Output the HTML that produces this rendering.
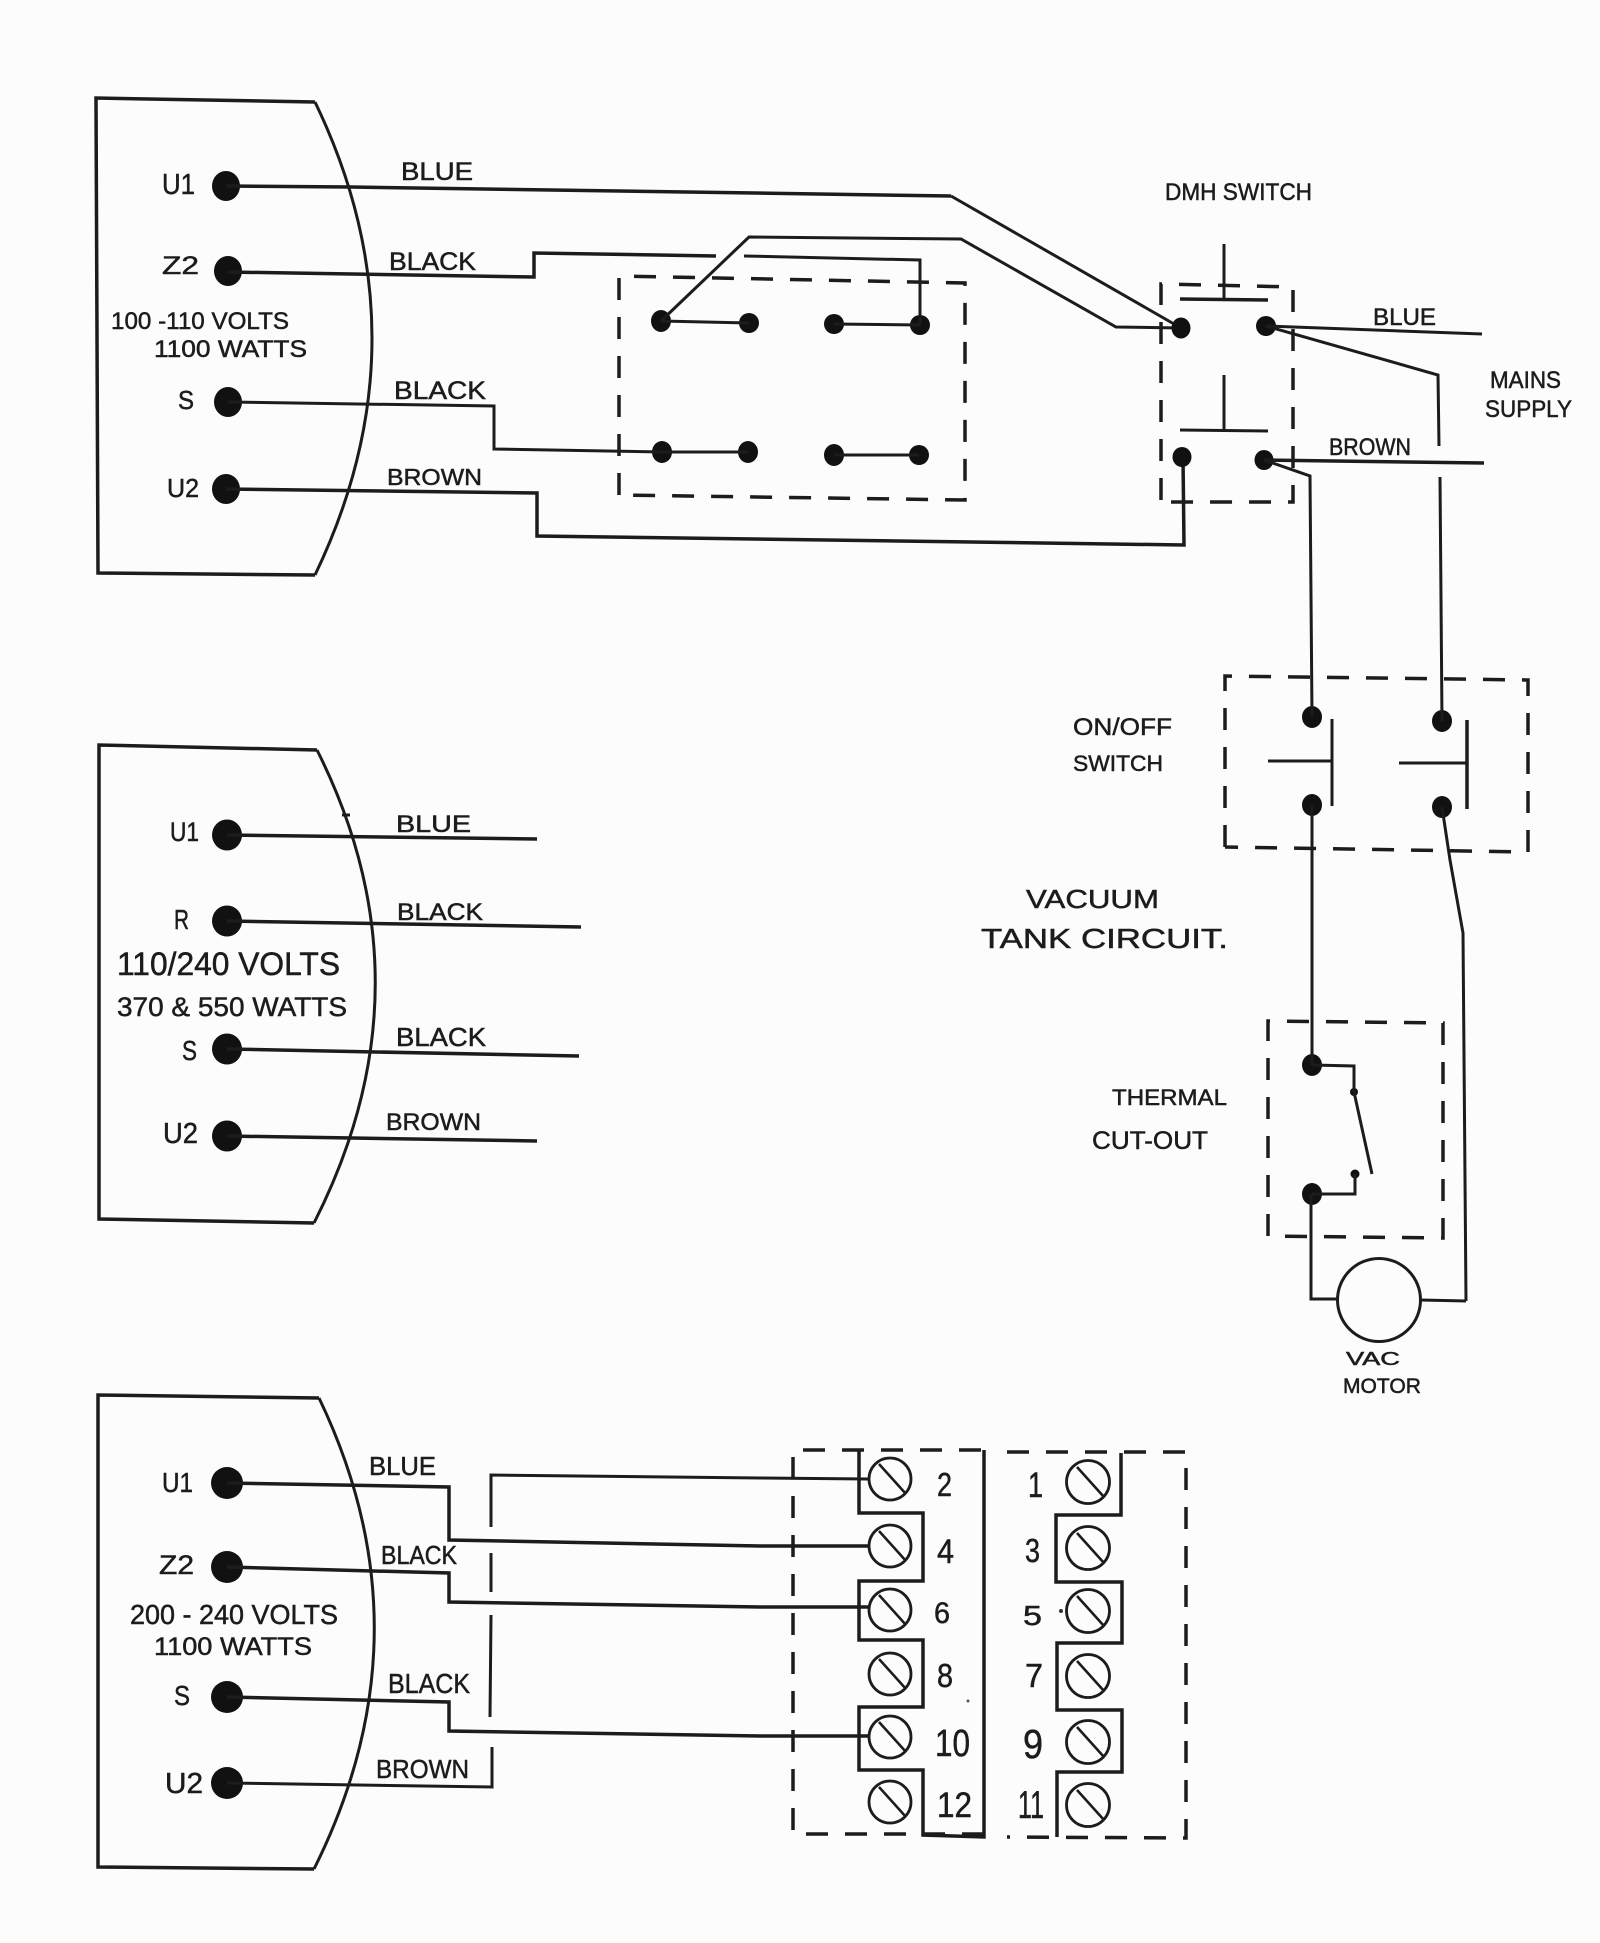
<!DOCTYPE html>
<html><head><meta charset="utf-8"><title>Wiring diagram</title>
<style>
html,body{margin:0;padding:0;background:#fcfcfc}
svg{display:block}
text{font-family:"Liberation Sans",sans-serif;fill:#1c1c1c;stroke:#1c1c1c;stroke-width:.5}
.w{fill:none;stroke:#1c1c1c;stroke-width:3;stroke-linejoin:miter}
.t{fill:none;stroke:#1c1c1c;stroke-width:3.5}
.d{fill:none;stroke:#1c1c1c;stroke-width:3.5;stroke-dasharray:22 17}
.s{fill:none;stroke:#1c1c1c;stroke-width:2.6}
.c{fill:#fcfcfc;stroke:#1c1c1c;stroke-width:2.8}
</style></head>
<body>
<svg xmlns="http://www.w3.org/2000/svg" width="1600" height="1943" viewBox="0 0 1600 1943">
<rect width="1600" height="1943" fill="#fcfcfc"/>

<!-- Panel 1 -->
<path class="t" d="M315 102 L96 98 L98 573 L315 575"/>
<path class="w" d="M315 102 Q429 338 315 575"/>
<g fill="#111">
<ellipse cx="226" cy="186" rx="14" ry="15"/><ellipse cx="228" cy="271" rx="14" ry="15"/>
<ellipse cx="228" cy="402" rx="14" ry="15"/><ellipse cx="226" cy="489" rx="14" ry="15"/>
<ellipse cx="661" cy="321" rx="10" ry="11"/><ellipse cx="749" cy="323" rx="10" ry="10"/>
<ellipse cx="834" cy="324" rx="10" ry="10"/><ellipse cx="920" cy="325" rx="10" ry="10"/>
<ellipse cx="662" cy="452" rx="10" ry="11"/><ellipse cx="748" cy="452" rx="10" ry="11"/>
<ellipse cx="834" cy="455" rx="10" ry="11"/><ellipse cx="919" cy="455" rx="10" ry="10"/>
</g>
<path class="t" d="M226 186 L351 187 L951 196"/><path class="w" d="M951 196 L1181 328"/>
<path class="t" d="M228 272 L534 277 L534 253 L716 256"/>
<path class="w" d="M744 256 L920 260 L920 325"/>
<path class="w" d="M661 321 L749 237 L961 239 L1116 327 L1181 328"/>
<path class="w" d="M661 321 L749 323"/><path class="w" d="M834 324 L920 325"/>
<path class="w" d="M662 452 L748 452"/><path class="w" d="M834 455 L919 455"/>
<path class="w" d="M228 402 L494 406 L494 449 L662 452"/>
<path class="t" d="M226 489 L537 493 L537 536 L1184 545 L1183 457"/>
<path class="d" d="M619 495 L619 276 L965 283 L965 500 L619 495"/>

<!-- DMH switch -->
<path class="d" d="M1161 500 L1161 284 L1293 287 L1293 502 L1161 502"/>
<g fill="#111">
<ellipse cx="1181" cy="328" rx="9.5" ry="10.5"/><ellipse cx="1266" cy="326" rx="10" ry="10"/>
<ellipse cx="1182" cy="457" rx="9.5" ry="10"/><ellipse cx="1264" cy="460" rx="9.5" ry="10"/>
<ellipse cx="1312" cy="717" rx="10" ry="11"/><ellipse cx="1312" cy="805" rx="10" ry="11"/>
<ellipse cx="1442" cy="721" rx="10" ry="11"/><ellipse cx="1442" cy="807" rx="10" ry="11"/>
<ellipse cx="1312" cy="1065" rx="10" ry="11"/><ellipse cx="1312" cy="1194" rx="10" ry="11"/>
<circle cx="1354" cy="1092" r="4"/><circle cx="1355" cy="1174" r="4.5"/>
</g>
<path class="w" d="M1224 244 L1224 299"/><path class="t" d="M1180 299 L1268 300"/>
<path class="w" d="M1224 375 L1224 430"/><path class="w" d="M1180 430 L1268 431"/>
<path class="w" d="M1266 326 L1482 334"/>
<path class="w" d="M1266 326 L1438 375 L1439 446"/>
<path class="w" d="M1440 477 L1442 721"/>
<path class="t" d="M1264 460 L1484 463"/>
<path class="w" d="M1264 460 L1310 476 L1312 716"/>

<!-- On/off switch -->
<path class="d" d="M1225 847 L1225 676 L1528 680 L1528 852 L1225 847"/>
<path class="w" d="M1332 719 L1332 806"/><path class="w" d="M1268 761 L1332 761"/>
<path class="t" d="M1467 720 L1467 809"/><path class="w" d="M1399 763 L1467 763"/>
<path class="w" d="M1312 805 L1312 1065"/>
<path class="w" d="M1442 807 L1450 860 L1463 933 L1466 1301"/>

<!-- Thermal cut-out -->
<path class="d" d="M1268 1236 L1268 1021 L1443 1023 L1443 1238 L1268 1236"/>
<path class="w" d="M1312 1065 L1354 1066 L1354 1092 L1372 1174"/>
<path class="w" d="M1355 1174 L1355 1194 L1312 1194"/>
<path class="w" d="M1311 1194 L1311 1299 L1337 1299"/>
<circle cx="1379" cy="1300" r="41.5" fill="#fcfcfc" stroke="#1c1c1c" stroke-width="3"/>
<path class="w" d="M1421 1300 L1466 1301"/>

<!-- Panel 2 -->
<path class="t" d="M317 750 L99 745 L99 1219 L314 1223"/>
<path class="w" d="M317 750 Q435 985 314 1223"/>
<path class="w" d="M342 815 L350 815"/>
<g fill="#111">
<ellipse cx="227" cy="835" rx="15" ry="15.5"/><ellipse cx="227" cy="921" rx="15" ry="15.5"/>
<ellipse cx="227" cy="1049" rx="15" ry="15.5"/><ellipse cx="227" cy="1136" rx="15" ry="15.5"/>
</g>
<path class="t" d="M227 835 L537 839"/><path class="t" d="M227 921 L581 927"/>
<path class="t" d="M227 1049 L579 1056"/><path class="t" d="M227 1136 L537 1141"/>

<!-- Panel 3 -->
<path class="t" d="M319 1398 L98 1395 L98 1867 L314 1869"/>
<path class="w" d="M319 1398 Q432 1633 314 1869"/>
<g fill="#111">
<ellipse cx="227" cy="1483" rx="16" ry="16"/><ellipse cx="227" cy="1567" rx="16" ry="16"/>
<ellipse cx="227" cy="1697" rx="16" ry="16"/><ellipse cx="227" cy="1783" rx="16" ry="16"/>
</g>
<path class="t" d="M227 1483 L449 1487 L449 1540 L760 1546 L868 1546"/>
<path class="t" d="M227 1567 L449 1573 L449 1602 L760 1607 L868 1607"/>
<path class="t" d="M227 1697 L449 1702 L449 1731 L760 1736 L868 1736"/>
<path class="w" d="M227 1783 L492 1787 L492 1747"/>
<path class="w" d="M490 1717 L491 1615"/><path class="w" d="M491 1592 L491 1553"/>
<path class="w" d="M491 1527 L491 1475 L760 1478 L868 1479"/>

<!-- Terminals -->
<path class="d" d="M984 1834 L793 1834 L793 1450 L984 1450"/>
<path class="t" d="M859 1450 L859 1513 L923 1513 L923 1581 L859 1581 L859 1640 L923 1640 L923 1707 L859 1707 L859 1770 L923 1770 L923 1835 L984 1837 L984 1450"/>
<path class="d" d="M1007 1452 L1186 1452 L1186 1838 L1007 1837"/>
<path class="t" d="M1121 1453 L1121 1515 L1056 1515 L1056 1582 L1122 1582 L1122 1643 L1057 1643 L1057 1710 L1122 1710 L1122 1772 L1057 1772 L1057 1837"/>

<g><circle class="c" cx="890" cy="1479" r="21"/><path class="s" d="M879 1464 L906 1494"/>
<circle class="c" cx="890" cy="1546" r="21"/><path class="s" d="M879 1531 L906 1561"/>
<circle class="c" cx="890" cy="1610" r="21"/><path class="s" d="M879 1595 L906 1625"/>
<circle class="c" cx="890" cy="1674" r="21"/><path class="s" d="M879 1659 L906 1689"/>
<circle class="c" cx="890" cy="1737" r="21"/><path class="s" d="M879 1722 L906 1752"/>
<circle class="c" cx="890" cy="1802" r="21"/><path class="s" d="M879 1787 L906 1817"/>
<circle class="c" cx="1088" cy="1482" r="21.5"/><path class="s" d="M1077 1467 L1104 1497"/>
<circle class="c" cx="1088" cy="1548" r="21.5"/><path class="s" d="M1077 1533 L1104 1563"/>
<circle class="c" cx="1088" cy="1611" r="21.5"/><path class="s" d="M1077 1596 L1104 1626"/>
<circle class="c" cx="1088" cy="1676" r="21.5"/><path class="s" d="M1077 1661 L1104 1691"/>
<circle class="c" cx="1088" cy="1742" r="21.5"/><path class="s" d="M1077 1727 L1104 1757"/>
<circle class="c" cx="1088" cy="1805" r="21.5"/><path class="s" d="M1077 1790 L1104 1820"/></g>
<circle cx="1061" cy="1611" r="2" fill="#333"/><circle cx="968" cy="1701" r="1.5" fill="#555"/>

<!-- Labels: panel 1 -->
<g>
<text x="162" y="194" font-size="29" textLength="33" lengthAdjust="spacingAndGlyphs">U1</text>
<text x="162" y="274" font-size="25" textLength="37" lengthAdjust="spacingAndGlyphs">Z2</text>
<text x="111" y="329" font-size="24" textLength="178" lengthAdjust="spacingAndGlyphs">100 -110 VOLTS</text>
<text x="154" y="357" font-size="24" textLength="153" lengthAdjust="spacingAndGlyphs">1100 WATTS</text>
<text x="178" y="409" font-size="26" textLength="16" lengthAdjust="spacingAndGlyphs">S</text>
<text x="167" y="497" font-size="26" textLength="32" lengthAdjust="spacingAndGlyphs">U2</text>
<text x="401" y="180" font-size="25" textLength="72" lengthAdjust="spacingAndGlyphs">BLUE</text>
<text x="389" y="270" font-size="25" textLength="87" lengthAdjust="spacingAndGlyphs">BLACK</text>
<text x="394" y="399" font-size="25" textLength="92" lengthAdjust="spacingAndGlyphs">BLACK</text>
<text x="387" y="485" font-size="23" textLength="95" lengthAdjust="spacingAndGlyphs">BROWN</text>

<text x="1165" y="200" font-size="24" textLength="147" lengthAdjust="spacingAndGlyphs">DMH SWITCH</text>
<text x="1373" y="325" font-size="24" textLength="63" lengthAdjust="spacingAndGlyphs">BLUE</text>
<text x="1490" y="388" font-size="24" textLength="71" lengthAdjust="spacingAndGlyphs">MAINS</text>
<text x="1485" y="417" font-size="24" textLength="87" lengthAdjust="spacingAndGlyphs">SUPPLY</text>
<text x="1329" y="455" font-size="24" textLength="82" lengthAdjust="spacingAndGlyphs">BROWN</text>
<text x="1073" y="735" font-size="24" textLength="99" lengthAdjust="spacingAndGlyphs">ON/OFF</text>
<text x="1073" y="771" font-size="22" textLength="90" lengthAdjust="spacingAndGlyphs">SWITCH</text>

<text x="1026" y="908" font-size="26" textLength="133" lengthAdjust="spacingAndGlyphs">VACUUM</text>
<text x="981" y="948" font-size="28" textLength="247" lengthAdjust="spacingAndGlyphs">TANK CIRCUIT.</text>
<text x="1112" y="1105" font-size="22" textLength="115" lengthAdjust="spacingAndGlyphs">THERMAL</text>
<text x="1092" y="1149" font-size="25" textLength="116" lengthAdjust="spacingAndGlyphs">CUT-OUT</text>
<text x="1346" y="1365" font-size="18" textLength="54" lengthAdjust="spacingAndGlyphs">VAC</text>
<text x="1343" y="1393" font-size="21" textLength="78" lengthAdjust="spacingAndGlyphs">MOTOR</text>

<!-- panel 2 -->
<text x="170" y="841" font-size="27" textLength="29" lengthAdjust="spacingAndGlyphs">U1</text>
<text x="174" y="929" font-size="28" textLength="15" lengthAdjust="spacingAndGlyphs">R</text>
<text x="117" y="975" font-size="32" textLength="223" lengthAdjust="spacingAndGlyphs">110/240 VOLTS</text>
<text x="117" y="1016" font-size="27" textLength="230" lengthAdjust="spacingAndGlyphs">370 &amp; 550 WATTS</text>
<text x="182" y="1060" font-size="28" textLength="15" lengthAdjust="spacingAndGlyphs">S</text>
<text x="163" y="1143" font-size="29" textLength="35" lengthAdjust="spacingAndGlyphs">U2</text>
<text x="396" y="832" font-size="24" textLength="75" lengthAdjust="spacingAndGlyphs">BLUE</text>
<text x="397" y="920" font-size="24" textLength="86" lengthAdjust="spacingAndGlyphs">BLACK</text>
<text x="396" y="1046" font-size="26" textLength="90" lengthAdjust="spacingAndGlyphs">BLACK</text>
<text x="386" y="1130" font-size="24" textLength="95" lengthAdjust="spacingAndGlyphs">BROWN</text>

<!-- panel 3 -->
<text x="162" y="1492" font-size="28" textLength="31" lengthAdjust="spacingAndGlyphs">U1</text>
<text x="159" y="1574" font-size="27" textLength="35" lengthAdjust="spacingAndGlyphs">Z2</text>
<text x="130" y="1624" font-size="28" textLength="208" lengthAdjust="spacingAndGlyphs">200 - 240 VOLTS</text>
<text x="154" y="1655" font-size="25" textLength="158" lengthAdjust="spacingAndGlyphs">1100 WATTS</text>
<text x="174" y="1705" font-size="28" textLength="16" lengthAdjust="spacingAndGlyphs">S</text>
<text x="165" y="1793" font-size="29" textLength="38" lengthAdjust="spacingAndGlyphs">U2</text>
<text x="369" y="1475" font-size="26" textLength="67" lengthAdjust="spacingAndGlyphs">BLUE</text>
<text x="381" y="1564" font-size="26" textLength="76" lengthAdjust="spacingAndGlyphs">BLACK</text>
<text x="388" y="1693" font-size="28" textLength="82" lengthAdjust="spacingAndGlyphs">BLACK</text>
<text x="376" y="1778" font-size="26" textLength="93" lengthAdjust="spacingAndGlyphs">BROWN</text>

<!-- terminal numbers -->
<text x="937" y="1496" font-size="33" textLength="15" lengthAdjust="spacingAndGlyphs">2</text>
<text x="937" y="1563" font-size="34" textLength="17" lengthAdjust="spacingAndGlyphs">4</text>
<text x="934" y="1623" font-size="30" textLength="16" lengthAdjust="spacingAndGlyphs">6</text>
<text x="937" y="1687" font-size="33" textLength="16" lengthAdjust="spacingAndGlyphs">8</text>
<text x="935" y="1756" font-size="38" textLength="35" lengthAdjust="spacingAndGlyphs">10</text>
<text x="937" y="1817" font-size="35" textLength="35" lengthAdjust="spacingAndGlyphs">12</text>
<text x="1028" y="1497" font-size="35" textLength="15" lengthAdjust="spacingAndGlyphs">1</text>
<text x="1025" y="1562" font-size="33" textLength="15" lengthAdjust="spacingAndGlyphs">3</text>
<text x="1023" y="1625" font-size="28" textLength="19" lengthAdjust="spacingAndGlyphs">5</text>
<text x="1025" y="1687" font-size="33" textLength="18" lengthAdjust="spacingAndGlyphs">7</text>
<text x="1023" y="1758" font-size="41" textLength="20" lengthAdjust="spacingAndGlyphs">9</text>
<text x="1018" y="1818" font-size="39" textLength="26" lengthAdjust="spacingAndGlyphs">11</text>
</g>
</svg>
</body></html>
